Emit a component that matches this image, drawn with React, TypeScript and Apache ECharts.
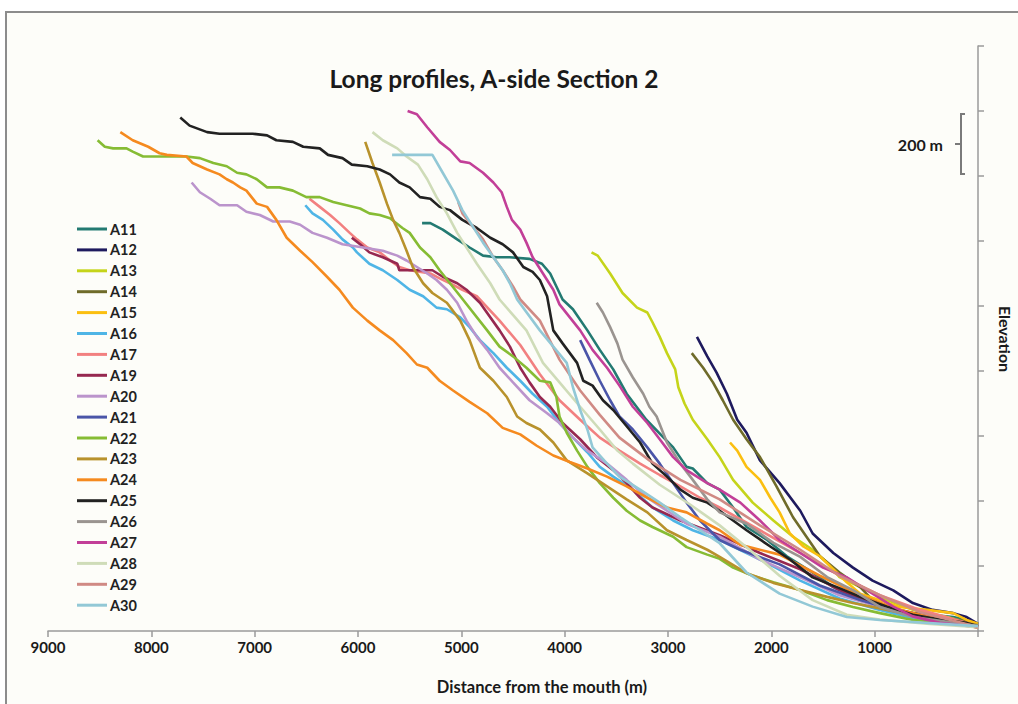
import { useEffect, useRef } from "react";
import * as echarts from "echarts";

// Long profiles: [distance from the mouth (m), elevation (m)]
const A11 = [[5380,1255],[5300,1255],[5180,1235],[5040,1205],[4920,1180],[4790,1155],[4660,1150],[4530,1150],[4340,1145],[4220,1130],[4140,1100],[4080,1060],[4020,1020],[3920,990],[3780,925],[3660,865],[3530,805],[3400,730],[3210,650],[2950,565],[2820,505],[2760,500],[2620,455],[2500,435],[2370,380],[2240,320],[2040,280],[1850,230],[1600,180],[1400,135],[1140,95],[880,65],[630,55],[240,43],[110,34],[0,18]];
const A12 = [[2720,905],[2620,845],[2530,795],[2430,730],[2330,650],[2240,610],[2110,525],[1920,455],[1720,370],[1600,300],[1400,240],[1210,195],[1020,155],[820,125],[630,86],[440,65],[240,55],[110,43],[0,22]];
const A13 = [[3740,1165],[3680,1155],[3560,1100],[3440,1040],[3300,995],[3200,980],[3150,950],[3080,905],[3010,855],[2930,805],[2900,750],[2840,700],[2760,650],[2620,590],[2500,535],[2370,465],[2180,395],[1980,340],[1790,290],[1600,250],[1460,210],[1340,166],[1140,135],[880,95],[630,65],[300,43],[0,18]];
const A14 = [[2770,855],[2660,810],[2565,765],[2470,710],[2370,650],[2240,590],[2110,535],[1950,445],[1790,350],[1660,290],[1530,230],[1340,180],[1140,135],[1020,95],[820,55],[560,43],[300,40],[0,22]];
const A15 = [[2400,580],[2330,555],[2240,505],[2110,465],[2010,410],[1920,365],[1820,300],[1690,260],[1530,230],[1400,190],[1270,150],[1140,115],[950,95],[760,74],[490,65],[240,55],[110,34],[0,22]];
const A16 = [[6510,1310],[6440,1285],[6340,1265],[6240,1235],[6150,1205],[6050,1180],[6010,1165],[5890,1130],[5760,1110],[5620,1080],[5500,1050],[5370,1030],[5240,995],[5140,990],[5010,965],[4920,935],[4820,895],[4690,855],[4560,810],[4430,770],[4310,730],[4170,690],[4050,640],[3920,595],[3780,550],[3660,505],[3530,475],[3340,435],[3150,380],[2950,340],[2760,310],[2500,280],[2110,220],[1720,155],[1340,100],[950,65],[560,34],[0,12]];
const A17 = [[6470,1330],[6370,1305],[6270,1280],[6180,1255],[6080,1225],[6010,1205],[5910,1180],[5790,1165],[5690,1140],[5600,1120],[5500,1110],[5300,1100],[5210,1085],[5110,1070],[4990,1050],[4850,1030],[4630,955],[4430,880],[4240,790],[4050,710],[3850,650],[3660,595],[3470,555],[3270,515],[3080,480],[2880,445],[2690,410],[2500,380],[2110,310],[1720,240],[1340,170],[950,110],[560,65],[0,15]];
const A19 = [[6060,1210],[5980,1190],[5890,1165],[5760,1150],[5620,1130],[5600,1110],[5280,1110],[5180,1090],[5040,1070],[4950,1050],[4820,1010],[4630,925],[4530,875],[4430,810],[4340,765],[4240,720],[4140,690],[4020,640],[3850,590],[3690,535],[3530,495],[3400,455],[3270,410],[3150,380],[2880,340],[2500,295],[2110,240],[1720,190],[1340,126],[950,80],[560,50],[0,15]];
const A20 = [[7610,1380],[7530,1350],[7430,1330],[7340,1310],[7170,1310],[7080,1290],[6950,1280],[6820,1260],[6660,1260],[6560,1250],[6440,1225],[6300,1210],[6150,1190],[5950,1180],[5760,1170],[5620,1155],[5530,1140],[5430,1120],[5330,1100],[5240,1080],[5140,1050],[5040,1010],[4950,955],[4850,905],[4750,865],[4630,810],[4500,765],[4340,710],[4170,670],[4050,640],[3920,595],[3780,555],[3590,515],[3400,465],[3200,410],[3010,370],[2820,330],[2500,290],[2110,220],[1720,165],[1340,110],[950,75],[560,43],[0,12]];
const A21 = [[3850,895],[3760,835],[3660,770],[3560,710],[3470,660],[3340,620],[3200,565],[3080,515],[2950,455],[2820,395],[2690,340],[2565,300],[2500,280],[2300,250],[1920,205],[1530,140],[1140,95],[760,60],[370,34],[0,12]];
const A22 = [[8520,1510],[8450,1490],[8370,1485],[8240,1485],[8180,1475],[8080,1460],[7890,1460],[7660,1460],[7530,1455],[7400,1440],[7270,1430],[7170,1410],[7080,1405],[6980,1390],[6880,1365],[6760,1365],[6630,1355],[6500,1335],[6370,1335],[6240,1320],[6110,1310],[5980,1300],[5890,1285],[5790,1280],[5690,1270],[5570,1240],[5500,1225],[5400,1180],[5300,1150],[5210,1110],[5110,1070],[5010,1030],[4750,925],[4630,875],[4500,845],[4370,810],[4240,770],[4140,765],[4080,720],[4050,660],[3980,610],[3880,555],[3780,505],[3660,455],[3530,410],[3400,370],[3270,340],[3150,320],[2950,290],[2820,258],[2620,235],[2500,222],[2370,195],[2180,170],[1980,150],[1720,126],[1460,95],[1210,74],[950,55],[630,34],[300,25],[0,12]];
const A23 = [[5930,1505],[5860,1440],[5790,1380],[5720,1315],[5660,1265],[5600,1225],[5530,1170],[5470,1120],[5370,1070],[5280,1040],[5140,1010],[5010,955],[4920,895],[4850,835],[4820,810],[4690,770],[4560,720],[4460,660],[4370,640],[4240,620],[4110,580],[3980,525],[3780,485],[3590,445],[3400,405],[3200,365],[3010,310],[2820,280],[2620,250],[2500,228],[2240,178],[1980,148],[1720,126],[1460,105],[1210,86],[880,65],[560,43],[300,34],[0,18]];
const A24 = [[8300,1535],[8180,1510],[8030,1490],[7920,1470],[7850,1465],[7660,1460],[7600,1440],[7460,1420],[7340,1405],[7270,1390],[7210,1380],[7140,1365],[7080,1355],[6980,1315],[6880,1305],[6790,1265],[6690,1210],[6560,1170],[6440,1135],[6300,1090],[6180,1050],[6050,995],[5910,955],[5790,925],[5660,895],[5530,855],[5430,820],[5330,810],[5210,770],[5080,740],[4920,705],[4750,670],[4600,625],[4430,605],[4270,570],[4110,540],[3950,520],[3780,500],[3590,475],[3400,445],[3200,410],[3010,380],[2820,365],[2620,330],[2500,310],[2300,265],[1920,235],[1530,170],[1140,110],[760,65],[370,35],[0,10]];
const A25 = [[7720,1580],[7630,1555],[7460,1535],[7340,1530],[7020,1530],[6880,1525],[6790,1510],[6630,1505],[6530,1490],[6370,1485],[6290,1465],[6150,1455],[6060,1435],[5910,1430],[5790,1420],[5690,1405],[5600,1380],[5500,1365],[5400,1335],[5300,1330],[5210,1305],[5110,1295],[4990,1265],[4850,1240],[4720,1210],[4600,1190],[4500,1165],[4400,1120],[4310,1105],[4240,1080],[4170,1030],[4110,925],[4020,885],[3880,825],[3820,770],[3730,755],[3630,710],[3530,680],[3400,630],[3270,580],[3150,515],[3010,475],[2880,435],[2760,410],[2620,395],[2500,370],[2240,310],[2010,260],[1820,220],[1600,165],[1365,135],[1140,105],[880,75],[630,50],[370,35],[110,25],[0,15]];
const A26 = [[3690,1010],[3630,980],[3560,935],[3490,885],[3440,835],[3340,780],[3240,730],[3180,690],[3110,660],[3010,580],[2880,515],[2760,465],[2620,405],[2500,365],[2240,330],[1980,271],[1720,228],[1460,166],[1210,126],[950,74],[630,43],[0,15]];
const A27 = [[5520,1600],[5430,1590],[5330,1550],[5210,1505],[5110,1480],[5010,1445],[4920,1440],[4790,1410],[4690,1380],[4610,1350],[4560,1305],[4510,1265],[4430,1235],[4370,1195],[4310,1150],[4210,1100],[4110,1050],[4050,1005],[3950,965],[3850,925],[3730,865],[3590,810],[3470,755],[3340,690],[3200,640],[3080,590],[2950,535],[2820,495],[2620,455],[2500,435],[2300,395],[2110,340],[1920,280],[1720,240],[1500,195],[1270,165],[1070,125],[820,75],[630,45],[370,25],[0,12]];
const A28 = [[5860,1535],[5760,1510],[5620,1485],[5530,1460],[5420,1435],[5330,1390],[5240,1335],[5140,1285],[5040,1225],[4950,1180],[4850,1130],[4720,1070],[4630,1020],[4370,925],[4210,825],[4050,765],[3850,690],[3660,620],[3490,555],[3340,515],[3080,450],[2790,390],[2500,325],[2210,250],[1920,170],[1600,95],[1270,50],[950,35],[465,22],[0,12]];
const A29 = [[5030,1320],[4990,1285],[4890,1245],[4790,1205],[4690,1150],[4600,1110],[4500,1060],[4430,1020],[4240,955],[4050,835],[3850,740],[3660,665],[3470,595],[3180,525],[2880,465],[2500,405],[2110,325],[1720,250],[1340,170],[950,110],[560,58],[0,12]];
const A30 = [[5670,1465],[5280,1465],[5180,1410],[5080,1355],[4990,1295],[4890,1245],[4790,1195],[4690,1150],[4600,1110],[4530,1070],[4460,1020],[4240,925],[4110,875],[3980,825],[3920,750],[3850,680],[3780,620],[3730,565],[3590,515],[3470,475],[3270,435],[3080,395],[2880,350],[2690,310],[2500,270],[2240,180],[1920,115],[1600,75],[1270,43],[950,34],[0,15]];

const profileNames = ["A11","A12","A13","A14","A15","A16","A17","A19","A20","A21","A22","A23","A24","A25","A26","A27","A28","A29","A30"];
const profileData = [A11,A12,A13,A14,A15,A16,A17,A19,A20,A21,A22,A23,A24,A25,A26,A27,A28,A29,A30];
const profileColors = ["#237a72","#1e1a5e","#c5d41a","#6f6b2a","#fbbf10","#4fb5e6","#f28080","#962850","#bb94cc","#4a55a8","#86bc34","#b8922c","#f58a1f","#222222","#9a9490","#c23f98","#cfdcb8","#d08a84","#92c8d6"];

const distanceTicks = [0,1000,2000,3000,4000,5000,6000,7000,8000,9000];

const FONT = "Lato, 'Open Sans', sans-serif";

export default function App() {
  const ref = useRef<HTMLDivElement>(null);

  useEffect(() => {
    if (!ref.current) return;
    const chart = echarts.init(ref.current, undefined, { renderer: "svg" });

    const series = profileNames.map((name, i) => ({
      name,
      type: "line",
      data: profileData[i],
      showSymbol: false,
      symbol: "none",
      lineStyle: { width: 2.6, color: profileColors[i] },
      itemStyle: { color: profileColors[i] },
      emphasis: { disabled: true },
    }));

    chart.setOption({
      animation: false,
      backgroundColor: "#fdfdf9",
      textStyle: { fontFamily: FONT },
      grid: { left: 48, right: 40, top: 46, bottom: 73, containLabel: false },
      legend: {
        orient: "vertical",
        left: 77,
        top: 221,
        padding: 0,
        icon: "rect",
        itemWidth: 30,
        itemHeight: 3,
        itemGap: 4.9,
        data: profileNames,
        textStyle: { fontFamily: FONT, fontSize: 14.5, fontWeight: "bold", color: "#222", lineHeight: 16, padding: [0, 0, 0, -2] },
      },
      xAxis: {
        type: "value",
        inverse: true,
        min: distanceTicks[0],
        max: distanceTicks[distanceTicks.length - 1],
        interval: 1000,
        splitLine: { show: false },
        axisLine: { show: true, lineStyle: { color: "#9a9a9a", width: 1.5 } },
        axisTick: { show: true, length: 6, lineStyle: { color: "#9a9a9a", width: 1.5 } },
        axisLabel: {
          color: "#1a1a1a",
          fontFamily: FONT,
          fontSize: 15,
          fontWeight: "bold",
          margin: 8,
          formatter: (v: number) => (v === 0 ? "" : String(v)),
        },
      },
      yAxis: {
        type: "value",
        position: "right",
        min: 0,
        max: 1800,
        interval: 200,
        splitLine: { show: false },
        axisLine: { show: true, lineStyle: { color: "#9a9a9a", width: 1.5 } },
        axisTick: { show: true, length: 6, lineStyle: { color: "#9a9a9a", width: 1.5 } },
        axisLabel: { show: false },
      },
      graphic: [
        // white margin around the framed plot
        { type: "rect", shape: { x: 0, y: 0, width: 1018, height: 11 }, style: { fill: "#ffffff" }, silent: true },
        { type: "rect", shape: { x: 0, y: 0, width: 5, height: 704 }, style: { fill: "#ffffff" }, silent: true },
        { type: "polyline", shape: { points: [[6, 704], [6, 12], [1018, 12]] }, style: { stroke: "#8c8c8c", lineWidth: 2, fill: null }, silent: true },
        {
          type: "text", x: 494, y: 78,
          style: { text: "Long profiles, A-side Section 2", fill: "#1a1a1a", font: `bold 24.5px ${FONT}`, textAlign: "center", textVerticalAlign: "middle" },
        },
        {
          type: "text", x: 542, y: 687,
          style: { text: "Distance from the mouth (m)", fill: "#1a1a1a", font: `bold 16.5px ${FONT}`, textAlign: "center", textVerticalAlign: "middle" },
        },
        {
          type: "text", x: 1005, y: 339, rotation: -Math.PI / 2,
          style: { text: "Elevation", fill: "#1a1a1a", font: `bold 16px ${FONT}`, textAlign: "center", textVerticalAlign: "middle" },
        },
        // 200 m scale bracket
        {
          type: "polyline",
          shape: { points: [[965, 114], [961, 114], [961, 174], [965, 174]] },
          style: { stroke: "#7a7a7a", lineWidth: 2, fill: null },
        },
        { type: "line", shape: { x1: 955, y1: 144, x2: 961, y2: 144 }, style: { stroke: "#7a7a7a", lineWidth: 2 } },
        {
          type: "text", x: 943, y: 144,
          style: { text: "200 m", fill: "#1a1a1a", font: `bold 16px ${FONT}`, textAlign: "right", textVerticalAlign: "middle" },
        },
      ],
      series,
    });

    return () => chart.dispose();
  }, []);

  return <div ref={ref} style={{ position: "fixed", left: 0, top: 0, width: 1018, height: 704 }} />;
}
